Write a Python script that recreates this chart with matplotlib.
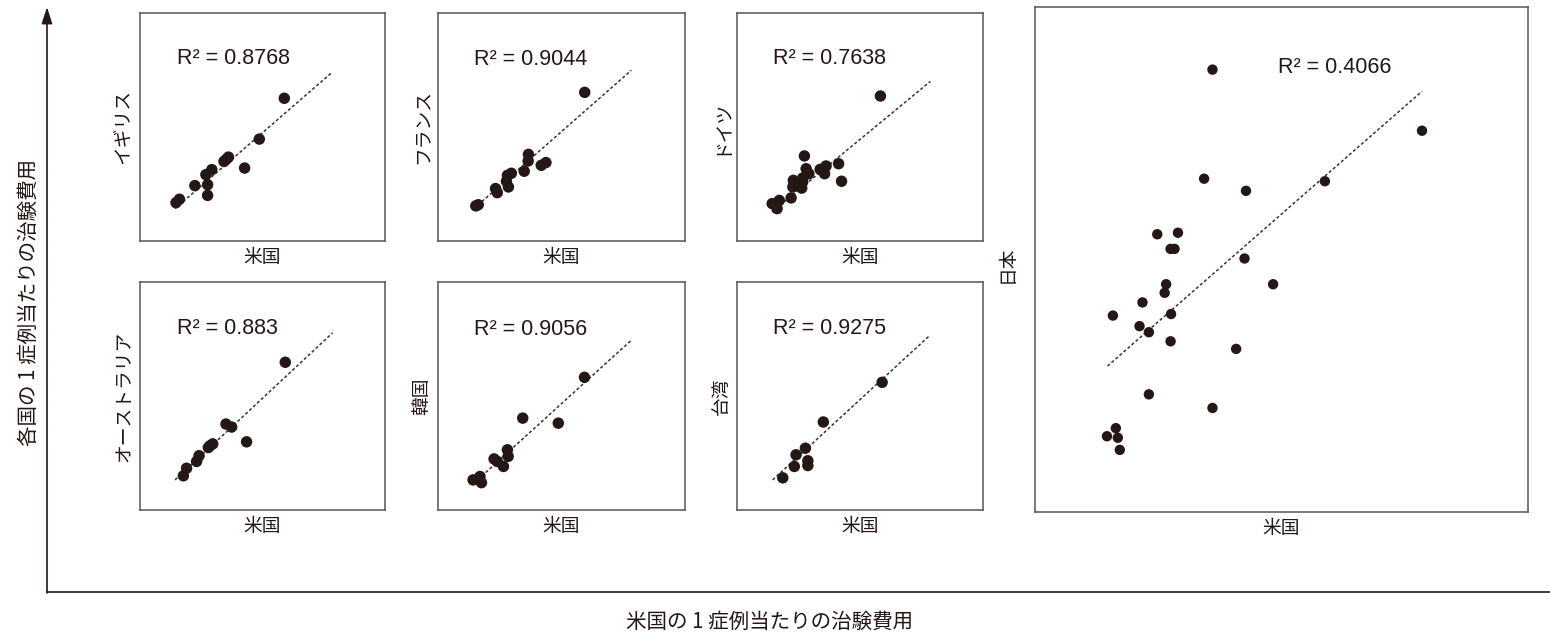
import matplotlib
matplotlib.use("Agg")
import matplotlib.pyplot as plt

plt.rcParams['font.family'] = ['Noto Sans CJK JP', 'DejaVu Sans']

# values, in % of each panel's width / height
uk_x = [58.9, 48.7, 36.1, 34.3, 42.7, 29.3, 26.9, 27.6, 22.4, 27.6, 16.1, 14.7, 35.2]
uk_y = [62.6, 44.7, 36.8, 34.9, 32.0, 31.3, 29.1, 24.7, 24.3, 20.0, 18.3, 16.8, 35.8]

fr_x = [59.4, 36.6, 36.5, 43.7, 41.8, 34.9, 29.7, 28.1, 27.7, 28.5, 23.3, 24.0, 16.3, 15.3]
fr_y = [65.2, 38.0, 35.1, 34.4, 33.2, 30.6, 29.7, 28.8, 26.2, 23.7, 23.0, 21.2, 15.9, 15.4]

de_x = [58.3, 27.4, 41.3, 36.2, 33.8, 35.6, 28.1, 29.2, 42.5, 26.7, 22.9, 22.7,
        26.3, 22.0, 17.2, 14.3, 16.3, 26.7]
de_y = [63.6, 37.3, 33.9, 32.9, 31.4, 29.5, 31.7, 29.5, 26.2, 25.9, 26.6, 23.7,
        23.2, 18.9, 17.8, 16.4, 14.2, 27.6]

au_x = [59.3, 35.1, 37.4, 43.5, 29.7, 27.9, 24.1, 23.1, 19.0, 17.7, 28.6]
au_y = [64.8, 37.7, 36.4, 29.9, 29.0, 27.4, 23.8, 21.3, 18.3, 15.0, 28.2]

kr_x = [59.3, 34.3, 48.7, 28.1, 28.4, 22.7, 24.0, 26.5, 14.2, 17.0, 17.6]
kr_y = [58.2, 40.3, 38.1, 26.4, 23.5, 22.4, 21.3, 19.1, 13.2, 14.7, 12.0]

tw_x = [59.0, 35.1, 27.8, 24.0, 28.8, 28.8, 23.3, 18.6]
tw_y = [56.0, 38.6, 27.1, 24.2, 21.6, 19.5, 19.1, 14.1]

jp_x = [36.0, 78.5, 58.8, 34.3, 42.8, 24.8, 29.0, 27.5, 28.3, 42.5, 48.3, 26.6, 26.3,
        21.8, 15.8, 27.6, 21.2, 23.1, 27.5, 40.8, 23.1, 36.0, 16.4, 14.6, 16.8, 17.2]
jp_y = [87.6, 75.5, 65.5, 66.0, 63.6, 55.0, 55.3, 52.1, 52.1, 50.2, 45.1, 45.1, 43.4,
        41.5, 38.9, 39.2, 36.8, 35.6, 33.8, 32.3, 23.3, 20.6, 16.6, 15.0, 14.7, 12.3]

# trend lines (start/end) as drawn in the picture
uk_trend = ([14.3, 78.2], [14.2, 73.8])
fr_trend = ([14.5, 78.3], [14.2, 74.9])
de_trend = ([14.2, 78.6], [12.7, 70.0])
au_trend = ([14.3, 78.6], [13.2, 77.7])
kr_trend = ([14.5, 78.3], [11.7, 74.5])
tw_trend = ([14.5, 78.3], [13.2, 76.5])
jp_trend = ([14.7, 78.5], [28.9, 83.3])

countries = ['イギリス', 'フランス', 'ドイツ', 'オーストラリア', '韓国', '台湾', '日本']
r2_labels = ['0.8768', '0.9044', '0.7638', '0.883', '0.9056', '0.9275', '0.4066']
xs = [uk_x, fr_x, de_x, au_x, kr_x, tw_x, jp_x]
ys = [uk_y, fr_y, de_y, au_y, kr_y, tw_y, jp_y]
trends = [uk_trend, fr_trend, de_trend, au_trend, kr_trend, tw_trend, jp_trend]

W, H = 1550, 633
# panel boxes in pixels: left, top, right, bottom
boxes = [(140, 13, 385, 241), (438, 13, 685, 241), (737, 13, 983, 241),
         (140, 282, 385, 510), (438, 282, 685, 510), (737, 282, 983, 510),
         (1035, 7, 1528, 512)]
r2_pos = [(0.15, 0.80), (0.145, 0.795), (0.145, 0.80), (0.15, 0.796),
          (0.145, 0.79), (0.145, 0.796), (0.493, 0.88)]

ink = '#231815'
latin = ['Liberation Sans', 'DejaVu Sans']
fig = plt.figure(figsize=(W / 100, H / 100), dpi=100)

# big outer axes with arrow
bg = fig.add_axes([0, 0, 1, 1])
bg.set_xlim(0, W)
bg.set_ylim(H, 0)
bg.axis('off')
bg.plot([47, W], [592, 592], color=ink, lw=1.2)
bg.annotate('', xy=(47, 7), xytext=(47, 593),
            arrowprops=dict(arrowstyle='-|>,head_length=1.0,head_width=0.32',
                            color=ink, lw=1.2, shrinkA=0, shrinkB=0))
bg.text(29, 302, '各国の 1 症例当たりの治験費用', rotation=90, ha='center', va='center',
        fontsize=14.8, color=ink)
bg.text(770, 622, '米国の 1 症例当たりの治験費用', ha='center', va='center',
        fontsize=14.8, color=ink)

for i, name in enumerate(countries):
    l, t, r, b = boxes[i]
    ax = fig.add_axes([l / W, 1 - b / H, (r - l) / W, (b - t) / H])
    ax.set_xlim(0, 100)
    ax.set_ylim(0, 100)
    ax.set_xticks([])
    ax.set_yticks([])
    for s in ax.spines.values():
        s.set_color('#555555')
        s.set_linewidth(1.1)
    size = 56 if i == 6 else 68
    ax.plot(trends[i][0], trends[i][1], color='#333333', lw=1.1,
            linestyle=(0, (2.0, 1.5)), zorder=1)
    ax.scatter(xs[i], ys[i], s=size, color=ink, edgecolors='none', zorder=2)
    rx, ry = r2_pos[i]
    ax.text(rx, ry, 'R² = ' + r2_labels[i], transform=ax.transAxes,
            ha='left', va='center', fontsize=15.5, color=ink, family=latin)
    ax.set_xlabel('米国', fontsize=13.5, color=ink, labelpad=4)
    ax.set_ylabel(name, fontsize=13.5, color=ink, labelpad=4)
    if i == 6:
        ax.yaxis.set_label_coords(-0.036, 0.49)

fig.savefig('out.png', dpi=100)
